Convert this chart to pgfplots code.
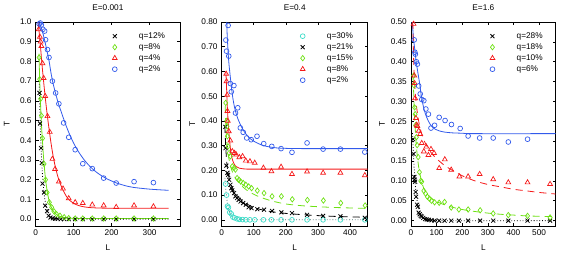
\documentclass[border=0pt]{standalone}
\usepackage{fontspec}
\setmainfont{Liberation Sans}
\usepackage{pgfplots}
\pgfplotsset{compat=1.18}
\definecolor{cblue}{RGB}{50,90,235}
\definecolor{cred}{RGB}{245,25,25}
\definecolor{cgreen}{RGB}{110,225,20}
\definecolor{ccyan}{RGB}{60,220,200}
\definecolor{cdot}{RGB}{70,110,110}
\pgfplotsset{
  panel/.style={
    scale only axis, height=204bp,
    tick align=inside, major tick length=3bp,
    axis line style={line width=0.7bp},
    every tick/.style={black, line width=0.6bp},
    minor tick num=0,
    /pgf/number format/assume math mode=true,
    tick label style={font=\fontsize{8.3}{10}\selectfont},
    yticklabel style={xshift=-1.2bp},
    xticklabel style={yshift=-1.2bp},
    title style={at={(axis description cs:0.5,1.029)}, anchor=base, font=\fontsize{8.3}{10}\selectfont},
    xlabel style={at={(axis description cs:0.5,-0.121)}, anchor=base, font=\fontsize{8.3}{10}\selectfont},
    ylabel style={at={(axis description cs:-0.201,0.5)}, anchor=center, font=\fontsize{8.3}{10}\selectfont},
    xlabel={L}, ylabel={T},
    legend cell align=left,
    legend style={draw=none, fill=none, anchor=north west, inner sep=0pt, row sep=3bp,
      nodes={inner sep=0pt, text height=6bp, text depth=2bp, font=\fontsize{8.3}{10}\selectfont}},
    legend image code/.code={\path (-2.5bp,-2bp) (24bp,2bp); \draw[#1] plot coordinates {(0bp,0bp)};},
  },
  mcirc/.style={only marks, mark=o, mark size=2.4bp, mark options={line width=0.7bp}},
  mtri/.style={only marks, mark=triangle, mark size=2.8bp, mark options={line width=0.7bp}},
  mdia/.style={only marks, mark=diamond, mark size=2.7bp, mark options={line width=0.7bp}},
  mx/.style={only marks, mark=x, mark size=2.8bp, mark options={line width=0.8bp}},
  crv/.style={no marks, line width=0.8bp, smooth, forget plot},
}
\begin{document}
\fontsize{8.3}{10}\selectfont
\begin{tikzpicture}
\useasboundingbox (0,0) rectangle (566bp,253bp);
% ---------------- Panel 1 ----------------
\begin{axis}[panel, at={(35.7bp,27bp)}, width=144.3bp,
  xmin=0, xmax=380, ymin=-0.035, ymax=1.0,
  xtick={0,100,200,300}, ytick={0,0.1,...,1.0},
  yticklabel style={/pgf/number format/.cd, fixed, fixed zerofill, precision=1},
  title={E=0.001},
  legend style={at={(0.528,0.951)}}]
\addplot[mx, black] coordinates {(10,0.64)(11.4,0.485)(14,0.36)(16,0.285)(18,0.18)(22,0.135)(25,0.068)(30,0.04)(34,0.017)(39,0.008)(45,0.004)(51,0.002)(58,0.001)(66,0)(75,0)(87,0)(104,0)(124,0)(149,0)(179,0)(212,0)(259,0)(310,0)};
\addlegendentry{q=12\%}
\addplot[mdia, cgreen] coordinates {(9,0.82)(10.5,0.71)(13,0.61)(15,0.525)(18,0.41)(22,0.28)(26,0.20)(30,0.135)(36,0.085)(42,0.06)(48,0.04)(55,0.025)(64,0.017)(75,0.01)(87,0.005)(104,0.003)(124,0.003)(149,0.003)(179,0.003)(212,0.003)(259,0.003)(310,0.003)};
\addlegendentry{q=8\%}
\addplot[mtri, cred] coordinates {(8,0.963)(11,0.925)(13,0.90)(15,0.878)(18,0.79)(21,0.715)(25,0.624)(31,0.522)(37,0.442)(44,0.305)(51,0.254)(61,0.19)(72,0.154)(87,0.105)(104,0.085)(124,0.081)(149,0.073)(179,0.069)(212,0.061)(259,0.069)(310,0.064)};
\addlegendentry{q=4\%}
\addplot[mcirc, cblue] coordinates {(9,0.99)(12,0.995)(15,0.985)(19,0.963)(23.5,0.954)(26,0.91)(31,0.86)(35,0.82)(44,0.70)(52.5,0.64)(61,0.585)(73.5,0.488)(87,0.415)(104,0.352)(124,0.281)(149,0.256)(179,0.208)(212,0.183)(259,0.19)(310,0.185)};
\addlegendentry{q=2\%}
\addplot[crv, cblue] coordinates {(8,1.0)(12,0.985)(16,0.962)(20,0.935)(25,0.895)(30,0.85)(35,0.805)(40,0.745)(45,0.695)(52,0.64)(60,0.585)(68,0.54)(76,0.495)(87,0.44)(100,0.385)(115,0.335)(130,0.295)(145,0.263)(160,0.238)(175,0.218)(190,0.202)(213,0.183)(235,0.17)(257,0.161)(300,0.152)(350,0.146)};
\addplot[crv, cred] coordinates {(6,1.0)(9,0.95)(12,0.89)(15,0.82)(18,0.755)(21,0.695)(25,0.62)(30,0.535)(35,0.46)(40,0.39)(45,0.33)(50,0.28)(55,0.24)(60,0.205)(70,0.155)(80,0.118)(90,0.094)(105,0.075)(120,0.065)(140,0.059)(170,0.056)(220,0.055)(350,0.055)};
\addplot[crv, cgreen] coordinates {(8.5,0.84)(10,0.74)(12,0.62)(14,0.53)(16,0.45)(18,0.39)(20,0.33)(23,0.26)(26,0.20)(30,0.145)(35,0.095)(40,0.065)(45,0.045)(50,0.032)(60,0.017)(70,0.010)(85,0.006)(100,0.004)(150,0.003)(350,0.003)};
\addplot[crv, black, dotted] coordinates {(9,0.70)(10,0.62)(12,0.48)(14,0.37)(16,0.29)(18,0.22)(20,0.17)(23,0.115)(26,0.08)(30,0.048)(35,0.025)(40,0.013)(50,0.004)(70,0.001)(100,0)(350,0)};
\end{axis}
% ---------------- Panel 2 ----------------
\begin{axis}[panel, at={(221.7bp,27bp)}, width=146bp,
  xmin=0, xmax=455, ymin=-0.025, ymax=0.80,
  xtick={0,100,200,300,400}, ytick={0,0.1,...,0.8},
  yticklabel style={/pgf/number format/.cd, fixed, fixed zerofill, precision=2},
  title={E=0.4},
  legend style={at={(0.535,0.951)}}]
\addplot[mcirc, ccyan] coordinates {(12,0.145)(15,0.10)(18,0.055)(21,0.05)(25,0.03)(30,0.024)(35,0.011)(40,0.008)(48,0.004)(55,0.002)(65,0.001)(75,0)(88,0)(103,0)(130,0)(155,0)(185,0)(219,0)(266,0)(316,0)(370,0)(446,0)};
\addlegendentry{q=30\%}
\addplot[mx, black] coordinates {(11.5,0.376)(12,0.29)(14.6,0.219)(17.7,0.19)(19.8,0.182)(23,0.162)(27,0.142)(30,0.128)(33,0.119)(38.5,0.108)(42.7,0.095)(48,0.088)(53,0.081)(59,0.074)(67,0.068)(75,0.061)(84,0.051)(93,0.047)(111,0.043)(132,0.041)(157,0.036)(186,0.03)(219,0.027)(266,0.02)(316,0.016)(370,0.014)(446,0.008)};
\addlegendentry{q=21\%}
\addplot[mdia, cgreen] coordinates {(12.5,0.473)(15.6,0.40)(16.7,0.378)(17.7,0.338)(19.8,0.297)(23,0.27)(27,0.257)(33,0.216)(38.5,0.21)(42.7,0.203)(48,0.169)(54,0.162)(59,0.155)(67,0.149)(75,0.142)(84,0.135)(93,0.128)(111,0.118)(132,0.108)(157,0.095)(186,0.095)(220,0.083)(267,0.08)(317,0.078)(371,0.068)(447,0.058)};
\addlegendentry{q=15\%}
\addplot[mtri, cred] coordinates {(14,0.59)(15,0.56)(17,0.505)(18,0.44)(19,0.40)(22,0.358)(27,0.32)(33,0.277)(40,0.27)(45,0.264)(55,0.253)(65,0.257)(75,0.239)(88,0.236)(103,0.23)(130,0.21)(155,0.196)(185,0.214)(219,0.185)(266,0.195)(316,0.19)(370,0.19)(446,0.18)};
\addlegendentry{q=8\%}
\addplot[mcirc, cblue] coordinates {(13,0.727)(15,0.682)(20,0.786)(22,0.662)(27,0.551)(30,0.518)(38,0.543)(43,0.432)(50,0.453)(58,0.372)(67,0.354)(78,0.331)(92,0.324)(110,0.338)(131,0.308)(156,0.297)(185,0.288)(219,0.273)(266,0.311)(316,0.286)(370,0.286)(446,0.274)};
\addlegendentry{q=2\%}
\addplot[crv, cblue] coordinates {(16,0.80)(17,0.75)(19,0.70)(22,0.64)(25,0.60)(30,0.54)(35,0.49)(40,0.455)(45,0.43)(50,0.41)(60,0.38)(70,0.357)(80,0.34)(90,0.327)(100,0.318)(120,0.305)(140,0.297)(170,0.291)(200,0.289)(250,0.288)(455,0.288)};
\addplot[crv, cred] coordinates {(13,0.60)(15,0.54)(17,0.47)(20,0.40)(23,0.345)(27,0.29)(32,0.25)(38,0.228)(45,0.215)(55,0.209)(70,0.206)(100,0.205)(455,0.205)};
\addplot[crv, cgreen, dash pattern=on 7bp off 5bp] coordinates {(11,0.46)(13,0.38)(15,0.33)(18,0.285)(22,0.25)(27,0.22)(33,0.195)(40,0.175)(50,0.155)(60,0.14)(75,0.123)(90,0.11)(110,0.097)(130,0.087)(160,0.075)(200,0.064)(250,0.057)(300,0.053)(350,0.05)(400,0.048)(455,0.046)};
\addplot[crv, black, dash pattern=on 7bp off 5bp] coordinates {(10,0.38)(12,0.31)(15,0.245)(18,0.205)(22,0.175)(27,0.15)(33,0.13)(40,0.113)(50,0.095)(60,0.082)(75,0.067)(90,0.056)(110,0.046)(130,0.039)(160,0.032)(200,0.026)(250,0.021)(300,0.017)(350,0.014)(400,0.012)(455,0.010)};
\addplot[crv, cdot, dotted] coordinates {(10,0.17)(12,0.135)(15,0.095)(18,0.065)(22,0.042)(26,0.027)(30,0.018)(35,0.011)(40,0.007)(50,0.003)(65,0.001)(80,0)(455,0)};
\end{axis}
% ---------------- Panel 3 ----------------
\begin{axis}[panel, at={(411bp,27bp)}, width=144.7bp,
  xmin=0, xmax=565, ymin=-0.0135, ymax=0.50,
  xtick={0,100,200,300,400,500}, ytick={0,0.05,...,0.5},
  yticklabel style={/pgf/number format/.cd, fixed, fixed zerofill, precision=2},
  title={E=1.6},
  legend style={at={(0.543,0.951)}}]
\addplot[mx, black] coordinates {(8,0.205)(10,0.168)(13,0.11)(14,0.103)(16,0.098)(18,0.072)(20,0.06)(24,0.04)(27,0.035)(30,0.02)(34,0.016)(38,0.012)(42,0.01)(48,0.007)(55,0.004)(62,0.003)(70,0.002)(80,0.001)(92,0)(110,0)(131,0)(157,0)(187,0)(223,0)(270,0)(321,0)(380,0)(455,0)(543,0)};
\addlegendentry{q=28\%}
\addplot[mdia, cgreen] coordinates {(10,0.365)(12,0.34)(14,0.285)(16,0.268)(18,0.24)(21,0.21)(24,0.19)(28,0.16)(33,0.122)(38,0.10)(42,0.098)(50,0.075)(57,0.068)(64,0.06)(72,0.055)(80,0.05)(92,0.046)(110,0.045)(131,0.047)(157,0.033)(187,0.028)(223,0.028)(270,0.026)(321,0.018)(380,0.014)(455,0.012)(543,0.008)};
\addlegendentry{q=18\%}
\addplot[mtri, cred] coordinates {(10,0.495)(13,0.365)(14,0.346)(16,0.308)(19,0.258)(22,0.241)(25,0.238)(30,0.226)(36,0.218)(42,0.195)(50,0.174)(60,0.186)(68,0.165)(78,0.18)(90,0.17)(110,0.132)(132,0.154)(157,0.128)(189,0.111)(223,0.111)(268,0.117)(321,0.104)(380,0.096)(455,0.096)(543,0.092)};
\addlegendentry{q=10\%}
\addplot[mcirc, cblue] coordinates {(12.5,0.455)(15,0.424)(17,0.419)(21,0.40)(25,0.394)(30,0.339)(36,0.319)(42,0.305)(50,0.302)(58,0.281)(68,0.268)(78,0.233)(92,0.24)(110,0.26)(133,0.252)(158,0.242)(192,0.232)(223,0.213)(268,0.208)(321,0.208)(380,0.198)(455,0.205)};
\addlegendentry{q=6\%}
\addplot[crv, cblue] coordinates {(4,0.50)(6,0.49)(9,0.465)(12,0.445)(15,0.43)(20,0.40)(25,0.38)(30,0.36)(35,0.34)(40,0.315)(45,0.297)(52,0.278)(60,0.262)(70,0.248)(80,0.238)(95,0.23)(110,0.226)(130,0.223)(160,0.221)(200,0.22)(250,0.219)(565,0.219)};
\addplot[crv, cred, dash pattern=on 7bp off 5bp] coordinates {(7,0.50)(9,0.44)(11,0.39)(14,0.345)(18,0.31)(22,0.285)(27,0.262)(33,0.24)(40,0.222)(50,0.203)(60,0.19)(72,0.177)(85,0.166)(100,0.156)(125,0.142)(150,0.131)(200,0.113)(250,0.1)(300,0.091)(350,0.085)(400,0.079)(450,0.075)(500,0.071)(565,0.067)};
\addplot[crv, cgreen, dash pattern=on 7bp off 5bp] coordinates {(8,0.36)(10,0.33)(12,0.29)(15,0.25)(18,0.215)(22,0.18)(26,0.155)(30,0.135)(35,0.117)(40,0.102)(45,0.09)(50,0.081)(60,0.07)(70,0.062)(80,0.056)(100,0.048)(130,0.04)(160,0.034)(200,0.028)(250,0.023)(300,0.019)(350,0.016)(400,0.014)(450,0.012)(500,0.011)(565,0.01)};
\addplot[crv, black, dotted] coordinates {(6,0.22)(8,0.19)(10,0.16)(12,0.135)(15,0.105)(18,0.08)(22,0.058)(26,0.042)(30,0.03)(35,0.02)(40,0.013)(50,0.006)(60,0.003)(80,0.001)(100,0)(565,0)};
\end{axis}
\end{tikzpicture}
\end{document}
